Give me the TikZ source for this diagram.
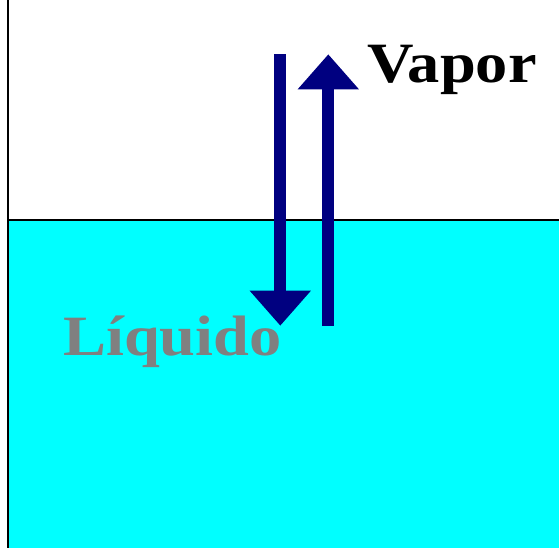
\documentclass[tikz,border=0pt]{standalone}
\usepackage{fontspec}
\setmainfont{Liberation Serif}
\usetikzlibrary{arrows.meta}
\definecolor{flowblue}{RGB}{0,0,128}
\definecolor{liquidcyan}{RGB}{0,255,255}
\definecolor{labelgray}{RGB}{128,128,128}
\newcommand{\widelabel}[1]{\scalebox{1.13}[1]{#1}}

\begin{document}
\begin{tikzpicture}[x=1pt, y=-1pt,
    flux/.style={draw=flowblue, line width=12pt,
      -{Triangle[width=59pt, length=35pt]}},
    phase/.style={anchor=base west, inner sep=0pt,
      font=\bfseries\fontsize{57}{60}\selectfont}]
  \useasboundingbox (0,0) rectangle (559,548);

  % Liquid
  \fill[liquidcyan] (8,220) rectangle (559,548);
  \draw[line width=1.5pt] (8,220) -- (559,220);
  \draw[line width=2pt] (8,0) -- (8,548);

  % Ends of the arrows
  \coordinate (down0) at (280.3,54.3);  \coordinate (down1) at (280.3,325.7);
  \coordinate (up0) at (328.3,325.7);   \coordinate (up1) at (328.3,54.3);

  \draw[flux] (down0) -- (down1);
  \draw[flux] (up0) -- (up1);

  % Labels
  \node[phase] (vapor) at (367,83) {\widelabel{Vapor}};
  \node[phase, text=labelgray] (liquido) at (63,355) {\widelabel{Líquido}};
\end{tikzpicture}
\end{document}
